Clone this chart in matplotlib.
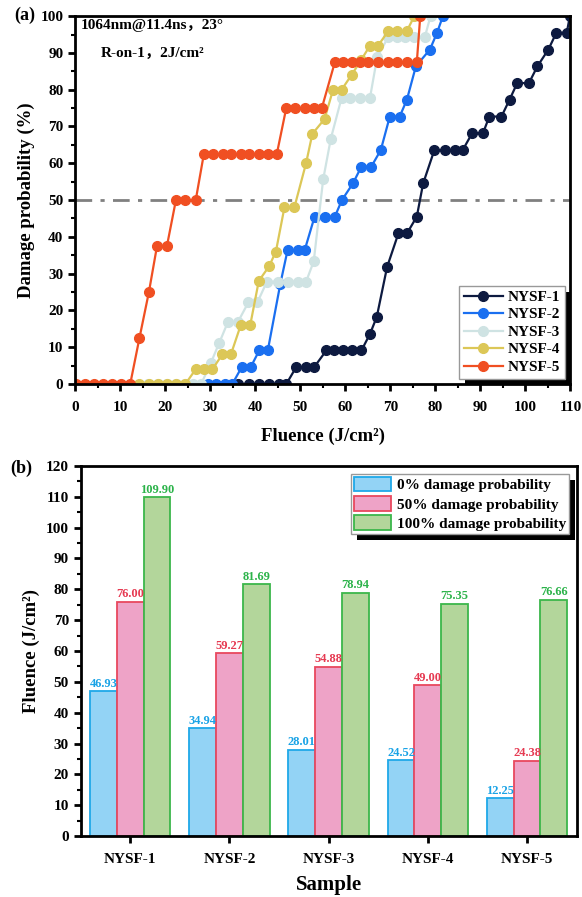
import matplotlib
matplotlib.use('Agg')
import matplotlib.pyplot as plt
import numpy as np
from matplotlib.patches import Rectangle
from matplotlib.ticker import MultipleLocator
from matplotlib.transforms import IdentityTransform

plt.rcParams['font.family'] = ['Liberation Serif', 'Noto Sans CJK SC', 'DejaVu Sans']
plt.rcParams['font.weight'] = 'bold'
plt.rcParams['axes.labelweight'] = 'bold'

# ---- panel (a): damage probability curves ----
nysf1_x = [36.1, 38.7, 40.9, 43.1, 45.4, 46.93, 49.1, 51.3, 53.1, 55.8, 57.6, 59.6, 61.4, 63.6,
           65.5, 67.0, 69.3, 71.8, 73.7, 75.9, 77.3, 79.8, 82.2, 84.3, 86.1, 88.2, 90.6, 92.0,
           94.7, 96.5, 98.2, 100.8, 102.7, 105.1, 106.9, 109.2, 109.9]
nysf1_y = [0, 0, 0, 0, 0, 0, 4.55, 4.55, 4.55, 9.09, 9.09, 9.09, 9.09, 9.09,
           13.6, 18.2, 31.8, 40.9, 40.9, 45.5, 54.5, 63.6, 63.6, 63.6, 63.6, 68.2, 68.2, 72.7,
           72.7, 77.3, 81.8, 81.8, 86.4, 90.9, 95.5, 95.5, 100]

nysf2_x = [29.5, 31.4, 33.2, 34.94, 37.0, 39.0, 40.9, 42.8, 45.6, 47.2, 49.5, 51.0, 53.2, 55.4,
           57.7, 59.27, 61.7, 63.6, 65.8, 67.9, 69.9, 72.1, 73.7, 75.7, 78.8, 80.4, 81.69]
nysf2_y = [0, 0, 0, 0, 4.55, 4.55, 9.09, 9.09, 27.3, 36.4, 36.4, 36.4, 45.5, 45.5,
           45.5, 50.0, 54.5, 59.1, 59.1, 63.6, 72.7, 72.7, 77.3, 86.4, 90.9, 95.5, 100]

nysf3_x = [16.3, 18.4, 20.5, 22.4, 24.5, 26.2, 28.01, 30.1, 32.0, 33.9, 36.1, 38.5, 40.5, 42.6,
           45.0, 47.2, 49.5, 51.3, 53.0, 55.1, 56.8, 59.2, 61.0, 63.2, 65.5, 67.1, 69.6, 71.4,
           73.3, 75.2, 77.7, 78.94]
nysf3_y = [0, 0, 0, 0, 0, 0, 0, 5.56, 11.1, 16.7, 16.7, 22.2, 22.2, 27.8,
           27.8, 27.8, 27.8, 27.8, 33.3, 55.6, 66.7, 77.8, 77.8, 77.8, 77.8, 88.9, 94.4, 94.4,
           94.4, 94.4, 94.4, 100]

nysf4_x = [14.3, 16.4, 18.4, 20.5, 22.5, 24.52, 26.8, 28.6, 30.5, 32.7, 34.6, 36.8, 38.9, 40.8,
           43.1, 44.6, 46.5, 48.7, 51.3, 52.7, 55.4, 57.3, 59.2, 61.4, 63.5, 65.5, 67.3, 69.6,
           71.4, 73.7, 75.35]
nysf4_y = [0, 0, 0, 0, 0, 0, 4, 4, 4, 8, 8, 16, 16, 28,
           32, 36, 48, 48, 60, 68, 72, 80, 80, 84, 88, 92, 92, 96,
           96, 96, 100]

nysf5_x = [0.3, 2.2, 4.2, 6.2, 8.2, 10.2, 12.25, 14.3, 16.4, 18.2, 20.4, 22.4, 24.4, 26.8,
           28.6, 30.6, 32.8, 34.6, 36.8, 38.6, 40.8, 42.8, 44.8, 46.9, 48.9, 51.1, 53.1, 54.8,
           57.7, 59.5, 61.4, 63.2, 65.1, 67.3, 69.6, 71.4, 73.7, 75.9, 76.66]
nysf5_y = [0, 0, 0, 0, 0, 0, 0, 12.5, 25, 37.5, 37.5, 50, 50, 50,
           62.5, 62.5, 62.5, 62.5, 62.5, 62.5, 62.5, 62.5, 62.5, 75, 75, 75, 75, 75,
           87.5, 87.5, 87.5, 87.5, 87.5, 87.5, 87.5, 87.5, 87.5, 87.5, 100]

curve_names = ['NYSF-1', 'NYSF-2', 'NYSF-3', 'NYSF-4', 'NYSF-5']
curve_colors = ['#0d1a40', '#1a6ff0', '#cfe3e3', '#dcc757', '#f04f22']

# ---- panel (b): thresholds ----
samples = ['NYSF-1', 'NYSF-2', 'NYSF-3', 'NYSF-4', 'NYSF-5']
fluence_0 = [46.93, 34.94, 28.01, 24.52, 12.25]
fluence_50 = [76.00, 59.27, 54.88, 49.00, 24.38]
fluence_100 = [109.90, 81.69, 78.94, 75.35, 76.66]
bar_names = ['0% damage probability', '50% damage probability', '100% damage probability']
bar_fill = ['#93d3f5', '#eea3c7', '#b3d69b']
bar_edge = ['#1fa8e8', '#e8485e', '#3cb64b']
bar_text = ['#1aa3e6', '#e63a52', '#2cb34a']


def add_shadow(fig, ax, leg, dx=6, dy=6):
    # solid black drop shadow like the original figure
    fig.canvas.draw()
    bb = leg.get_frame().get_window_extent()
    r = Rectangle((bb.x0 + dx, bb.y0 - dy), bb.width, bb.height,
                  transform=IdentityTransform(), facecolor='black',
                  edgecolor='none', zorder=leg.get_zorder() - 0.1, clip_on=False)
    ax.add_artist(r)


def style_axes(ax):
    for s in ax.spines.values():
        s.set_linewidth(2)
    ax.tick_params(which='major', direction='out', length=5, width=2, labelsize=11)
    ax.tick_params(axis='x', which='major', pad=7)
    ax.tick_params(which='minor', direction='out', length=3, width=1.5)
    for lab in ax.get_xticklabels() + ax.get_yticklabels():
        lab.set_fontweight('bold')


fig = plt.figure(figsize=(5.82, 8.97), dpi=100)

ax1 = fig.add_axes([0.129, 0.572, 0.851, 0.410])
curves = [(nysf1_x, nysf1_y), (nysf2_x, nysf2_y), (nysf3_x, nysf3_y),
          (nysf4_x, nysf4_y), (nysf5_x, nysf5_y)]
ax1.axhline(50, color='#808080', lw=2, ls='-.', dashes=(6, 3, 1.5, 3), zorder=1)
for (xs, ys), name, c in zip(curves, curve_names, curve_colors):
    ax1.plot(xs, ys, '-o', color=c, lw=1.6, ms=7, label=name)
ax1.set_xlim(0, 110)
ax1.set_ylim(0, 100)
ax1.xaxis.set_major_locator(MultipleLocator(10))
ax1.xaxis.set_minor_locator(MultipleLocator(5))
ax1.yaxis.set_major_locator(MultipleLocator(10))
ax1.yaxis.set_minor_locator(MultipleLocator(5))
style_axes(ax1)
ax1.set_xlabel('Fluence (J/cm²)', fontsize=13.5, fontweight='bold', labelpad=10)
ax1.set_ylabel('Damage probability (%)', fontsize=13.5, fontweight='bold', labelpad=4)
ax1.text(0.012, 0.965, '1064nm@11.4ns，23°', transform=ax1.transAxes, fontsize=11,
         fontweight='bold', va='baseline', ha='left')
ax1.text(0.052, 0.889, 'R-on-1，2J/cm²', transform=ax1.transAxes, fontsize=11,
         fontweight='bold', va='baseline', ha='left')
fig.text(0.025, 0.983, '(a)', fontsize=13, fontweight='bold', va='center', ha='left')
leg1 = ax1.legend(loc='lower right', fontsize=11, frameon=True, fancybox=False,
                  framealpha=1, edgecolor='#999999', borderaxespad=0.35,
                  handlelength=2.6, labelspacing=0.25, borderpad=0.3, handletextpad=0.3)
for t in leg1.get_texts():
    t.set_fontweight('bold')

ax2 = fig.add_axes([0.1387, 0.068, 0.852, 0.4125])
xpos = np.arange(1, len(samples) + 1)
w = 0.27
for i, vals in enumerate([fluence_0, fluence_50, fluence_100]):
    bars = ax2.bar(xpos + (i - 1) * w, vals, width=w, color=bar_fill[i],
                   edgecolor=bar_edge[i], lw=1.3, label=bar_names[i])
    ax2.bar_label(bars, fmt='%.2f', padding=1, fontsize=9, fontweight='bold',
                  color=bar_text[i])
ax2.set_xlim(0.5, 5.5)
ax2.set_ylim(0, 120)
ax2.set_xticks(xpos, samples)
ax2.yaxis.set_major_locator(MultipleLocator(10))
ax2.yaxis.set_minor_locator(MultipleLocator(5))
style_axes(ax2)
ax2.set_xlabel('Sample', fontsize=15, fontweight='bold', labelpad=7)
ax2.set_ylabel('Fluence (J/cm²)', fontsize=13.5, fontweight='bold', labelpad=4)
fig.text(0.018, 0.478, '(b)', fontsize=13, fontweight='bold', va='center', ha='left')
leg2 = ax2.legend(loc='upper right', fontsize=11, frameon=True, fancybox=False,
                  framealpha=1, edgecolor='#999999', borderaxespad=0.5,
                  handlelength=2.4, handleheight=1.1, labelspacing=0.25,
                  borderpad=0.2, handletextpad=0.4)
for t in leg2.get_texts():
    t.set_fontweight('bold')

add_shadow(fig, ax1, leg1)
add_shadow(fig, ax2, leg2)

fig.savefig('out.png', dpi=100)
